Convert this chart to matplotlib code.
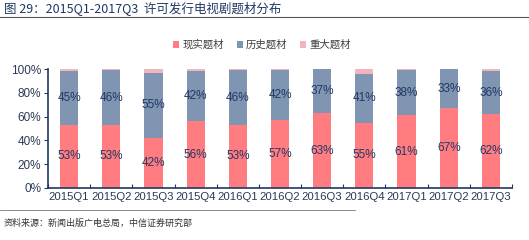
import matplotlib.pyplot as plt
import numpy as np

plt.rcParams['font.family'] = ['Noto Sans CJK SC', 'DejaVu Sans']

quarters = ["2015Q1", "2015Q2", "2015Q3", "2015Q4", "2016Q1", "2016Q2",
            "2016Q3", "2016Q4", "2017Q1", "2017Q2", "2017Q3"]
xianshi = [53, 53, 42, 56, 53, 57, 63, 55, 61, 67, 62]
lishi = [45, 46, 55, 42, 46, 42, 37, 41, 38, 33, 36]
zhongda = [2, 1, 3, 2, 1, 1, 0, 4, 1, 0, 2]

c_real = "#FF7C80"
c_hist = "#7F95B1"
c_major = "#F2B5BD"
c_lab = "#203864"
c_axis = "#1F3864"
latin = ["Liberation Sans", "DejaVu Sans"]

fig = plt.figure(figsize=(5.29, 2.4), dpi=100)
ax = fig.add_axes([48 / 529, 1 - 188 / 240, 464 / 529, 119 / 240])

x = np.arange(len(quarters))
w = 0.43
a = np.array(xianshi) / 100
b = np.array(lishi) / 100
c = np.array(zhongda) / 100
ax.bar(x, a, w, color=c_real, label="现实题材")
ax.bar(x, b, w, bottom=a, color=c_hist, label="历史题材")
ax.bar(x, c, w, bottom=a + b, color=c_major, label="重大题材")

for i in range(len(x)):
    ax.text(x[i], a[i] / 2, f"{xianshi[i]}%", ha="center", va="center",
            fontsize=8.5, color=c_lab, family=latin)
    ax.text(x[i], a[i] + b[i] / 2, f"{lishi[i]}%", ha="center", va="center",
            fontsize=8.5, color=c_lab, family=latin)

ax.set_xlim(-0.5, len(x) - 0.5)
ax.set_ylim(0, 1)
ax.set_yticks(np.arange(0, 1.01, 0.2))
ax.set_yticklabels([f"{int(round(v * 100))}%" for v in np.arange(0, 1.01, 0.2)],
                   family=latin, fontsize=8.5, color="#2B3A55")
ax.set_xticks(np.arange(-0.5, len(x), 1), minor=False)
ax.set_xticklabels([])
ax.set_xticks(x, minor=True)
ax.set_xticklabels(quarters, minor=True, fontsize=8.2, family=latin, color="#2B3A55")
ax.tick_params(axis="x", which="minor", length=0, pad=3)
ax.tick_params(axis="x", which="major", length=3, direction="in", color=c_axis)
ax.tick_params(axis="y", length=3, direction="out", color=c_axis, pad=2)
for s in ["top", "right"]:
    ax.spines[s].set_visible(False)
for s in ["left", "bottom"]:
    ax.spines[s].set_color(c_axis)
    ax.spines[s].set_linewidth(1.2)

leg = fig.legend(loc="center", bbox_to_anchor=(262 / 529, 1 - 45 / 240), ncol=3,
                 frameon=False, fontsize=7.5, handlelength=0.6, handleheight=0.6,
                 handletextpad=0.3, columnspacing=1.2)
for t in leg.get_texts():
    t.set_color("#404040")

fig.text(4 / 529, 1 - 9 / 240, "图 29：2015Q1-2017Q3  许可发行电视剧题材分布",
         fontsize=9, color=c_axis, va="center", ha="left")
fig.add_artist(plt.Line2D([0, 1], [1 - 17 / 240, 1 - 17 / 240], color="#555555", lw=0.8))
fig.add_artist(plt.Line2D([0, 355 / 529], [1 - 210 / 240, 1 - 210 / 240], color="#777777", lw=0.6))
fig.text(4 / 529, 1 - 223 / 240, "资料来源：新闻出版广电总局，中信证券研究部",
         fontsize=6.5, color="#333333", va="center", ha="left")

fig.savefig("out.png", dpi=100)
